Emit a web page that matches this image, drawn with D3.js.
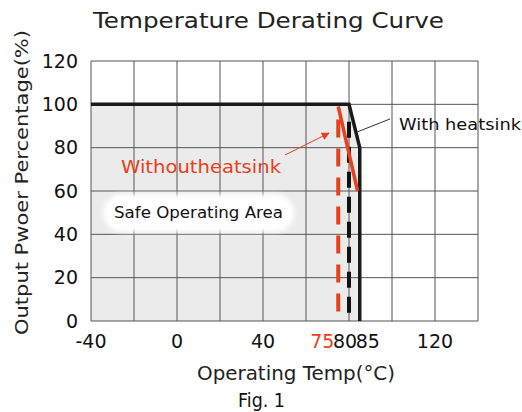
<!DOCTYPE html>
<html><head><meta charset="utf-8">
<script src="https://cdn.jsdelivr.net/npm/d3@7/dist/d3.min.js"></script>
<style>body{margin:0;background:#fff}svg{display:block;font-family:"DejaVu Sans",sans-serif}</style>
</head><body><svg id="c" width="522" height="412"></svg>
<script>
const xGrid = [-40,-20,0,20,40,60,80,100,120,140];
const xTickLabels = [-40,0,40,75,80,85,120];
const yTicks = [0,20,40,60,80,100,120];
const withHeatsink = [[-40,100],[80,100],[85,80],[85,0]];
const withoutHeatsink = [[75,99],[84,60]];
const safeArea = [[-40,0],[-40,100],[80,100],[85,80],[85,0]];
const limitWithout = [[75,93],[75,0]];
const limitWith = [[80,92],[80,0]];

const svg = d3.select("#c");
const x = d3.scaleLinear().domain([-40,140]).range([91,478]);
const y = d3.scaleLinear().domain([0,120]).range([321,61]);
const line = d3.line().x(d=>x(d[0])).y(d=>y(d[1]));

svg.append("path").attr("d", line(safeArea)+"Z").attr("fill","#ebebeb");

const defs = svg.append("defs");
defs.append("filter").attr("id","blur").attr("x","-20%").attr("y","-50%").attr("width","140%").attr("height","200%")
  .append("feGaussianBlur").attr("stdDeviation",2.5);

// grid
svg.append("g").selectAll("line").data(xGrid).join("line")
  .attr("x1",d=>x(d)).attr("x2",d=>x(d)).attr("y1",y(0)).attr("y2",y(120))
  .attr("stroke","#555").attr("stroke-width",1);
svg.append("g").selectAll("line").data(yTicks).join("line")
  .attr("x1",x(-40)).attr("x2",x(140)).attr("y1",d=>y(d)).attr("y2",d=>y(d))
  .attr("stroke","#555").attr("stroke-width",1);
// white pill over grid
svg.append("rect").attr("x",103).attr("y",194).attr("width",191).attr("height",38)
  .attr("rx",19).attr("fill","#fff").attr("filter","url(#blur)");

// dashed limits
svg.append("path").attr("d",line(limitWithout)).attr("stroke","#e8401c").attr("stroke-width",4)
  .attr("stroke-dasharray","18,11").attr("fill","none");
svg.append("path").attr("d",line(limitWith)).attr("stroke","#111").attr("stroke-width",4)
  .attr("stroke-dasharray","16,9").attr("fill","none");

// curves
svg.append("path").attr("d",line(withHeatsink)).attr("stroke","#1a1a1a").attr("stroke-width",3.5)
  .attr("fill","none").attr("stroke-linejoin","miter");
svg.append("path").attr("d",line(withoutHeatsink)).attr("stroke","#e8401c").attr("stroke-width",3.5)
  .attr("fill","none");

// annotations
svg.append("line").attr("x1",357).attr("y1",132).attr("x2",390).attr("y2",119)
  .attr("stroke","#333").attr("stroke-width",1);
defs.append("marker").attr("id","ah").attr("viewBox","0 0 10 10").attr("refX",9).attr("refY",5)
  .attr("markerWidth",11).attr("markerHeight",8).attr("orient","auto").attr("markerUnits","userSpaceOnUse")
  .append("path").attr("d","M0,0L10,5L0,10Z").attr("fill","#e8401c");
svg.append("line").attr("x1",285).attr("y1",155).attr("x2",329).attr("y2",133)
  .attr("stroke","#e8401c").attr("stroke-width",1).attr("marker-end","url(#ah)");

function txt(s, xx, yy, size, w, color, anchor){
  return svg.append("text").attr("x",xx).attr("y",yy).attr("font-size",size).attr("fill",color)
    .attr("text-anchor",anchor||"start").attr("textLength",w).attr("lengthAdjust","spacingAndGlyphs").text(s);
}
txt("With heatsink",399,130,16.5,122,"#111");
txt("Withoutheatsink",121,173,17.5,160,"#e8401c");
txt("Safe Operating Area",114,218,16,169,"#111");

// axes labels
svg.append("g").selectAll("text").data(yTicks).join("text")
  .attr("x",78).attr("y",d=>y(d)).attr("dy","0.35em").attr("text-anchor","end")
  .attr("font-size",19).attr("fill","#111").text(d=>d);
const nudge = {75:-16,80:-4,85:8};
svg.append("g").selectAll("text").data(xTickLabels).join("text")
  .attr("x",d=>x(d)+(nudge[d]||0)).attr("y",348).attr("text-anchor","middle")
  .attr("font-size",19).attr("fill",d=>d===75?"#e8401c":"#111").text(d=>d);

txt("Temperature Derating Curve",93,28,21,351,"#222");
svg.append("text").attr("transform","translate(28,335) rotate(-90)")
  .attr("font-size",18.5).attr("fill","#222").attr("textLength",305).attr("lengthAdjust","spacingAndGlyphs")
  .text("Output Pwoer Percentage(%)");
txt("Operating Temp(°C)",197,380,19,198,"#222");
txt("Fig. 1",238,407,20,47,"#111");
</script></body></html>
